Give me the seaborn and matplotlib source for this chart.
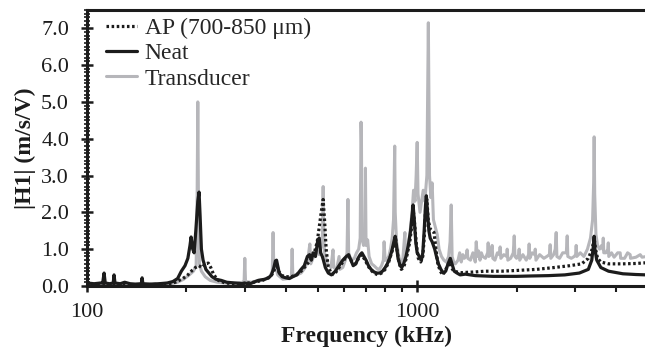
import seaborn as sns
import matplotlib.pyplot as plt
from matplotlib.ticker import LogLocator, FixedLocator, FixedFormatter, MultipleLocator, NullFormatter

# ---- data (frequency in kHz, |H1| in m/s/V) ----
freq_transducer = [100, 105, 112, 120, 130, 140, 150, 160, 170, 180, 188, 196, 204, 210, 214, 215.5, 216.5, 217.5,
                   219, 222, 228, 236, 248, 262, 280, 296, 299, 300.5, 302, 315, 330, 345, 358, 364, 366, 368, 372,
                   378, 392, 405, 416, 418, 420, 432, 445, 458, 466, 473, 476, 486, 495, 505, 514, 517, 519, 521,
                   524, 535, 548, 556, 559, 570, 580, 583, 595, 606, 613, 617, 620, 630, 645, 655, 665, 672, 676,
                   678, 680, 688, 694, 697, 700, 708, 715, 728, 740, 750, 760, 768, 780, 790, 794, 800, 808, 820,
                   830, 840, 848, 855, 858, 866, 880, 892, 905, 918, 922, 935, 950, 965, 975, 985, 993, 1000, 1006,
                   1020, 1035, 1043, 1055, 1070, 1081, 1090, 1100, 1110, 1120, 1135, 1150, 1165, 1185, 1205, 1225,
                   1245, 1258, 1268, 1276, 1290, 1305, 1330, 1345, 1360, 1375, 1390, 1410, 1417, 1424, 1450, 1475,
                   1500, 1510, 1520, 1535, 1550, 1565, 1580, 1610, 1635, 1641, 1648, 1670, 1687, 1695, 1720, 1750,
                   1775, 1784, 1793, 1830, 1868, 1874, 1882, 1920, 1955, 1968, 1978, 2000, 2030, 2037, 2045, 2090,
                   2140, 2175, 2184, 2193, 2230, 2270, 2279, 2290, 2350, 2420, 2470, 2515, 2529, 2540, 2590, 2620,
                   2637, 2650, 2700, 2760, 2830, 2848, 2860, 2930, 2990, 3020, 3032, 3045, 3120, 3200, 3280, 3350,
                   3400, 3425, 3437, 3450, 3480, 3520, 3570, 3620, 3650, 3662, 3675, 3730, 3780, 3793, 3806, 3880,
                   3950, 4050, 4121, 4135, 4250, 4340, 4418, 4430, 4600, 4740, 4800, 4950]
h1_transducer = [0.02, 0.03, 0.02, 0.03, 0.02, 0.03, 0.04, 0.03, 0.04, 0.06, 0.10, 0.18, 0.30, 0.40, 0.55, 2.5, 5.0, 2.2,
                 0.60, 0.40, 0.25, 0.15, 0.10, 0.08, 0.08, 0.10, 0.12, 0.75, 0.12, 0.10, 0.15, 0.18, 0.25, 0.40, 1.45, 0.45, 0.55,
                 0.30, 0.18, 0.20, 0.25, 1.0, 0.30, 0.30, 0.35, 0.50, 0.70, 1.14, 0.60, 0.80, 1.0, 0.85, 1.1, 1.5, 2.7, 1.5,
                 0.90, 0.60, 0.50, 0.98, 0.50, 0.45, 0.80, 0.45, 0.50, 0.70, 0.90, 2.35, 0.90, 0.70, 0.75, 0.90, 1.0, 1.3, 4.45,
                 3.9, 1.3, 1.1, 1.25, 3.2, 1.1, 1.25, 0.80, 0.60, 0.55, 0.50, 0.45, 0.45, 0.55, 0.70, 1.2, 0.70, 0.70, 0.80,
                 1.0, 1.3, 1.8, 3.8, 2.0, 1.2, 0.80, 0.60, 0.75, 1.45, 0.80, 1.0, 1.4, 2.0, 2.6, 2.3, 3.0, 3.9, 2.5,
                 2.0, 2.4, 2.6, 2.3, 3.0, 7.15, 3.0, 2.4, 2.8, 1.8, 1.6, 1.4, 1.0, 0.80, 0.70, 0.65,
                 0.80, 1.2, 2.2, 0.80, 0.65, 0.60, 0.70, 0.90, 0.65, 0.85, 0.75, 0.85, 0.98, 0.75, 0.70, 0.90,
                 0.65, 1.2, 0.80, 0.95, 0.70, 0.90, 0.80, 0.75, 0.90, 1.17, 0.80, 0.85, 1.1, 0.75, 0.70, 0.90,
                 0.85, 1.06, 0.75, 0.85, 0.80, 1.0, 0.70, 0.75, 0.90, 1.36, 0.80, 0.75, 0.85, 1.0, 0.70, 0.85,
                 0.70, 0.85, 1.14, 0.75, 0.90, 0.85, 1.0, 0.70, 0.85, 0.75, 0.80, 0.85, 1.12, 0.75, 0.85, 1.0,
                 1.45, 0.80, 0.75, 0.90, 0.90, 1.36, 0.80, 0.75, 0.80, 0.85, 1.1, 0.80, 0.90, 0.80, 1.0, 1.3,
                 1.8, 2.8, 4.05, 2.5, 1.4, 1.1, 1.0, 1.1, 1.0, 1.3, 0.90, 0.90, 1.0, 1.17, 0.80, 0.90,
                 0.78, 0.90, 0.90, 0.75, 0.75, 0.90, 0.85, 0.75, 0.78, 0.85, 0.78, 0.80]

freq_neat = [100, 105, 110, 111.5, 112.6, 113.5, 117, 120, 120.7, 121.5, 126, 130, 135, 140, 146, 146.8, 147.6, 155,
             165, 175, 182, 188, 193, 198, 202, 205, 206.6, 209, 211, 213.5, 216.5, 218.4, 220, 222, 224.6, 229, 234,
             239, 246, 255, 265, 280, 296, 300, 310, 320, 330, 345, 355, 362, 368, 372, 375, 378, 382, 390, 400, 410,
             420, 432, 445, 455, 465, 472, 478, 484, 492, 500, 505, 510, 516, 520, 527, 538, 550, 565, 580, 595, 610,
             620, 630, 640, 652, 662, 672, 680, 690, 700, 712, 725, 740, 755, 770, 785, 800, 812, 825, 838, 850, 858,
             865, 875, 888, 898, 910, 925, 940, 955, 965, 972, 980, 990, 1000, 1015, 1030, 1040, 1050, 1060, 1066,
             1075, 1085, 1095, 1110, 1130, 1144, 1160, 1180, 1200, 1220, 1240, 1260, 1275, 1295, 1320, 1350, 1400,
             1450, 1500, 1600, 1700, 1800, 2000, 2200, 2500, 2800, 3100, 3300, 3380, 3420, 3437, 3455, 3500, 3600,
             3800, 4200, 4600, 4950]
h1_neat = [0.08, 0.06, 0.08, 0.08, 0.35, 0.08, 0.06, 0.08, 0.30, 0.08, 0.06, 0.10, 0.06, 0.05, 0.06, 0.22, 0.06, 0.05,
           0.06, 0.08, 0.12, 0.20, 0.40, 0.55, 0.75, 1.1, 1.33, 1.0, 0.90, 1.5, 2.3, 2.55, 1.9, 1.0, 0.70, 0.45, 0.35,
           0.25, 0.18, 0.15, 0.10, 0.08, 0.06, 0.08, 0.05, 0.10, 0.15, 0.18, 0.22, 0.30, 0.50, 0.68, 0.70, 0.55, 0.35, 0.25, 0.22, 0.20,
           0.25, 0.30, 0.45, 0.55, 0.80, 0.85, 0.70, 0.90, 0.80, 1.25, 1.3, 0.90, 0.80, 0.70, 0.50, 0.35, 0.30, 0.40, 0.55, 0.70, 0.80,
           0.85, 0.70, 0.55, 0.60, 0.75, 0.85, 0.90, 0.80, 0.70, 0.55, 0.45, 0.38, 0.35, 0.35, 0.40, 0.50, 0.60, 0.75, 0.95, 1.2, 1.35,
           1.1, 0.75, 0.55, 0.50, 0.60, 0.80, 1.1, 1.5, 1.9, 2.2, 1.8, 1.2, 0.90, 0.80, 0.70, 0.90, 1.5, 2.2, 2.45,
           2.0, 1.5, 1.3, 1.2, 1.0, 0.80, 0.60, 0.45, 0.35, 0.40, 0.60, 0.75, 0.60, 0.40, 0.35, 0.30, 0.32,
           0.30, 0.28, 0.27, 0.26, 0.26, 0.26, 0.27, 0.28, 0.30, 0.35, 0.45, 0.70, 1.1, 1.35, 1.0, 0.70, 0.50,
           0.40, 0.33, 0.31, 0.30]

freq_ap = [100, 120, 140, 160, 175, 185, 195, 202, 208, 213, 218, 223, 228, 233, 237, 242, 250, 262, 280, 300, 320, 340,
           360, 370, 375, 380, 390, 400, 415, 430, 445, 460, 475, 488, 498, 505, 512, 519, 524, 530, 537, 548, 560, 575,
           590, 605, 620, 635, 650, 665, 678, 690, 705, 720, 740, 760, 780, 800, 820, 840, 852, 860, 868, 880, 895, 910,
           930, 950, 962, 972, 982, 995, 1008, 1025, 1040, 1052, 1062, 1070, 1080, 1095, 1110, 1125, 1140, 1155, 1175,
           1195, 1215, 1235, 1252, 1270, 1290, 1320, 1360, 1420, 1500, 1600, 1800, 2000, 2300, 2600, 2900, 3150, 3300,
           3390, 3437, 3470, 3520, 3600, 3800, 4200, 4600, 4950]
h1_ap = [0.03, 0.03, 0.03, 0.04, 0.05, 0.10, 0.20, 0.30, 0.42, 0.50, 0.55, 0.50, 0.60, 0.62, 0.50, 0.30, 0.15, 0.08, 0.06, 0.07, 0.10, 0.15,
         0.25, 0.45, 0.60, 0.40, 0.28, 0.25, 0.25, 0.30, 0.40, 0.55, 0.70, 0.90, 1.2, 1.6, 2.0, 2.35, 1.8, 1.0, 0.55, 0.35, 0.30, 0.45,
         0.60, 0.75, 0.80, 0.65, 0.60, 0.75, 0.85, 0.75, 0.60, 0.45, 0.35, 0.30, 0.35, 0.45, 0.65, 0.95, 1.15, 1.3, 1.0, 0.65, 0.45, 0.50,
         0.80, 1.2, 1.6, 2.1, 1.7, 1.1, 0.75, 0.65, 0.80, 1.4, 2.2, 2.35, 1.8, 1.55, 1.5, 1.45, 1.0, 0.60, 0.40,
         0.30, 0.40, 0.55, 0.65, 0.50, 0.40, 0.38, 0.36, 0.37, 0.38, 0.40, 0.40, 0.42, 0.45, 0.50, 0.55, 0.60, 0.75,
         1.0, 1.3, 1.0, 0.75, 0.65, 0.60, 0.60, 0.61, 0.63]

# ---- style ----
sns.set_style("ticks")
plt.rcParams['font.family'] = ['Liberation Serif', 'DejaVu Serif']

fig = plt.figure(figsize=(6.45, 3.53), dpi=100)
ax = fig.add_axes([0.135, 0.19, 0.865, 0.782])

gray = "#b6b6ba"
black = "#1c1c1c"

sns.lineplot(x=freq_transducer, y=h1_transducer, estimator=None, sort=False, color=gray,
             linewidth=2.2, ax=ax, label="Transducer")
sns.lineplot(x=freq_neat, y=h1_neat, estimator=None, sort=False, color=black,
             linewidth=2.3, ax=ax, label="Neat")
sns.lineplot(x=freq_ap, y=h1_ap, estimator=None, sort=False, color=black,
             linewidth=2.3, linestyle=(0, (0.8, 0.8)), ax=ax, label="AP (700-850 \u03bcm)")

ax.set_xscale("log")
ax.set_xlim(100, 4900)
ax.set_ylim(0, 7.5)

# ticks
ax.xaxis.set_major_locator(FixedLocator([100, 1000]))
ax.xaxis.set_major_formatter(FixedFormatter(["100", "1000"]))
ax.xaxis.set_minor_locator(LogLocator(base=10, subs=range(2, 10)))
ax.xaxis.set_minor_formatter(NullFormatter())
ax.set_yticks([0, 1, 2, 3, 4, 5, 6, 7])
ax.set_yticklabels(["0.0", "1.0", "2.0", "3.0", "4.0", "5.0", "6.0", "7.0"])
ax.yaxis.set_minor_locator(MultipleLocator(0.1))

ax.tick_params(axis="both", which="major", direction="inout", length=8, width=1.8,
               labelsize=16, color=black, labelcolor=black)
ax.tick_params(axis="x", which="major", pad=8)
ax.tick_params(axis="y", which="major", pad=9)
ax.tick_params(axis="x", which="minor", direction="out", length=4, width=1.5, color=black)
ax.tick_params(axis="y", which="minor", direction="inout", length=4, width=1.2, color=black)

for side in ["left", "bottom", "top"]:
    ax.spines[side].set_linewidth(2.2)
    ax.spines[side].set_color(black)
ax.spines["right"].set_visible(False)

ax.set_xlabel("Frequency (kHz)", fontsize=17, fontweight="bold", labelpad=3, color=black)
ax.set_ylabel("|H1| (m/s/V)", fontsize=17, fontweight="bold", labelpad=4, color=black)

handles, labels = ax.get_legend_handles_labels()
order = [2, 1, 0]
ax.legend([handles[i] for i in order], [labels[i] for i in order], loc="upper left",
          bbox_to_anchor=(0.012, 1.015), frameon=False, fontsize=17, handlelength=1.35,
          handletextpad=0.3, labelspacing=0.16, borderaxespad=0.1)

fig.savefig("out.png", dpi=100)
